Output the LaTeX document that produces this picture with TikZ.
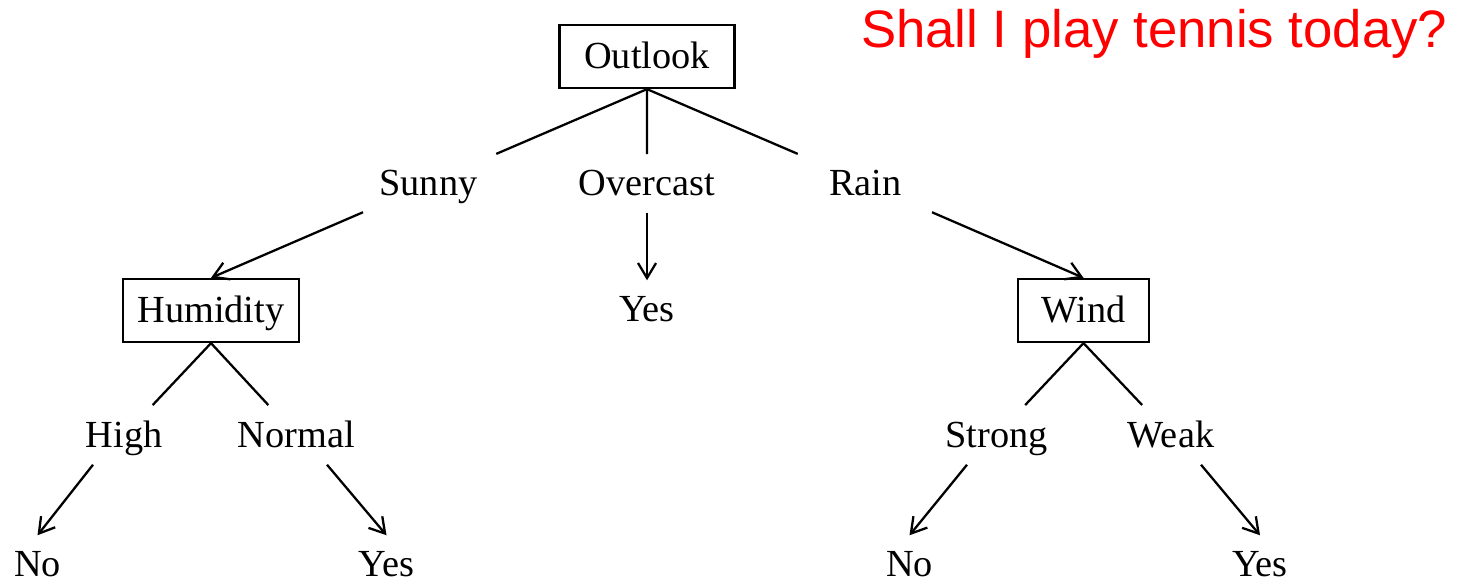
\documentclass[tikz,border=0pt]{standalone}
\usepackage{fontspec}
\setmainfont{Liberation Serif}
\newfontfamily\questfont{Liberation Sans}
\usetikzlibrary{arrows.meta,calc}

\begin{document}
\begin{tikzpicture}[line width=0.65pt,
    every node/.style={font=\fontsize{10.9}{13}\selectfont, text height=1.5ex, text depth=0pt},
    attr/.style={draw, minimum height=0.63cm, inner xsep=0pt},
    val/.style={inner xsep=0pt, inner ysep=0.16cm},
    arr/.style={-{Straight Barb[length=1.5mm,width=1.8mm]}}]
    \useasboundingbox (0,0) rectangle (14.64,5.8);

    \node[attr, minimum width=1.75cm] (outlook) at (6.47, 5.235) {Outlook};

    \node[val] (sunny) at (4.285, 3.97) {Sunny};
    \node[val] (overcast) at (6.47, 3.965) {Overcast};
    \node[val] (rain) at (8.655, 3.97) {Rain};

    \node[attr, minimum width=1.76cm] (humidity) at (2.11, 2.695) {Humidity};
    \node[val] (yes_mid) at (6.47, 2.705) {Yes};
    \node[attr, minimum width=1.31cm] (wind) at (10.835, 2.695) {Wind};

    \node[val] (high) at (1.24, 1.445) {High};
    \node[val] (normal) at (2.965, 1.445) {Normal};
    \node[val] (strong) at (9.965, 1.445) {Strong};
    \node[val] (weak) at (11.71, 1.445) {Weak};

    \node[val] (no_hum) at (0.375, 0.155) {No};
    \node[val] (yes_hum) at (3.865, 0.155) {Yes};
    \node[val] (no_wind) at (9.095, 0.155) {No};
    \node[val] (yes_wind) at (12.6, 0.155) {Yes};

    \node[font=\questfont\fontsize{15}{18}\selectfont, text=red, anchor=base west, inner sep=0pt] (question) at (8.60, 5.32) {Shall I play tennis today?};

    \draw (outlook.south) -- ($(outlook.south)!0.69!(sunny)$);
    \draw (outlook.south) -- ($(outlook.south)!0.69!(overcast)$);
    \draw (outlook.south) -- ($(outlook.south)!0.69!(rain)$);

    \draw[arr] ([xshift=-0.655cm]sunny.south) -- (humidity.north);
    \draw[arr] (overcast.south) -- (yes_mid.north);
    \draw[arr] ([xshift=0.665cm]rain.south) -- (wind.north);

    \draw (humidity.south) -- ($(humidity.south)!0.67!(high)$);
    \draw (humidity.south) -- ($(humidity.south)!0.67!(normal)$);
    \draw (wind.south) -- ($(wind.south)!0.67!(strong)$);
    \draw (wind.south) -- ($(wind.south)!0.67!(weak)$);

    \draw[arr] ([xshift=-0.31cm]high.south) -- (no_hum.north);
    \draw[arr] ([xshift=0.305cm]normal.south) -- (yes_hum.north);
    \draw[arr] ([xshift=-0.295cm]strong.south) -- (no_wind.north);
    \draw[arr] ([xshift=0.3cm]weak.south) -- (yes_wind.north);
\end{tikzpicture}
\end{document}
